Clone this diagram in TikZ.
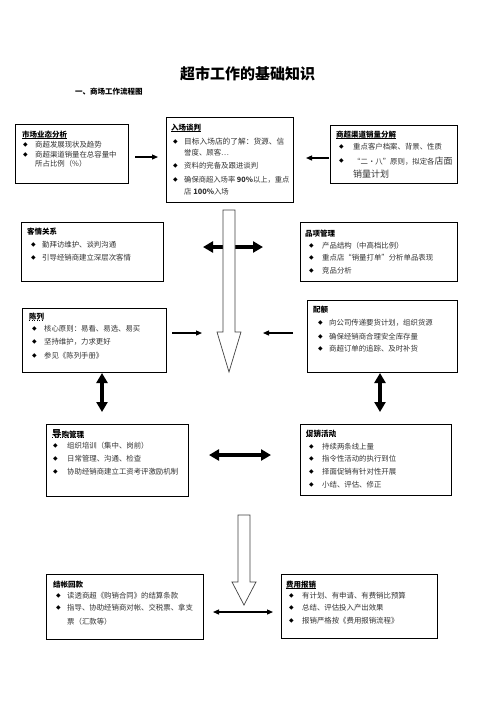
\documentclass[tikz,border=0pt]{standalone}
\usepackage{fontspec}
\setmainfont{Noto Sans CJK SC}
\newfontfamily\symf{DejaVu Sans}
\usetikzlibrary{arrows.meta}
\tikzset{
  box/.style={draw, line width=1pt, fill=white, anchor=north west, inner sep=0},
  hd/.style={anchor=west, inner sep=0, font=\bfseries\fontsize{7.5}{9}\selectfont},
  tx/.style={anchor=west, inner sep=0, font=\fontsize{7.4}{9}\selectfont, text=black!80},
  bul/.style={anchor=west, inner sep=0, font=\symf\fontsize{6}{7}\selectfont},
  ul/.style={line width=0.6pt},
  thinarr/.style={line width=1.2pt, -{Triangle[length=6pt,width=5pt]}},
  thinboth/.style={line width=1.2pt, {Triangle[length=6pt,width=5pt]}-{Triangle[length=6pt,width=5pt]}},
  thickarr/.style={line width=4.5pt, {Triangle[length=10pt,width=11pt]}-{Triangle[length=10pt,width=11pt]}},
  hollow/.style={draw=black!75, line width=0.7pt, fill=white}
}
\begin{document}
\begin{tikzpicture}[x=1pt,y=-1pt]
\useasboundingbox (0,0) rectangle (496,702);
% title
\node[inner sep=0, font=\bfseries\fontsize{15}{18}\selectfont] (title) at (247.5,74) {超市工作的基础知识};
\node[anchor=west, inner sep=0, font=\bfseries\fontsize{7.5}{9}\selectfont] (sub) at (75,92) {一、商场工作流程图};

% ---------- row 1
\node[box, minimum width=113, minimum height=59] (b1) at (15,124) {};
\node[hd] (h1) at (22,135) {市场业态分析};
\draw[ul] ([yshift=1pt]h1.south west) -- ([yshift=1pt]h1.south east);
\node[bul] (p1a) at (23,145) {◆}; \node[tx] (t1a) at (35,145) {商超发展现状及趋势};
\node[bul] (p1b) at (23,155) {◆}; \node[tx] (t1b) at (35,155) {商超渠道销量在总容量中};
\node[tx] (t1c) at (35,164) {所占比例（\%）};

\node[box, minimum width=127, minimum height=85] (b2) at (166,117) {};
\node[hd] (h2) at (171,128) {入场谈判};
\draw[ul] ([yshift=1pt]h2.south west) -- ([yshift=1pt]h2.south east);
\node[bul] (p2a) at (173,142) {◆}; \node[tx, font=\fontsize{7.7}{9}\selectfont] (t2a) at (184,142) {目标入场店的了解：货源、信};
\node[tx] (t2b) at (184,153) {誉度、顾客…};
\node[bul] (p2c) at (173,166) {◆}; \node[tx] (t2c) at (184,166) {资料的完备及跟进谈判};
\node[bul] (p2d) at (173,180) {◆}; \node[tx, font=\fontsize{7.3}{9}\selectfont] (t2d) at (184,180) {确保商超入场率 \textbf{90\%}以上，重点};
\node[tx] (t2e) at (184,192) {店 \textbf{100\%}入场};

\node[box, minimum width=127, minimum height=58] (b3) at (330,125) {};
\node[hd] (h3) at (336,135) {商超渠道销量分解};
\draw[ul] ([yshift=1pt]h3.south west) -- ([yshift=1pt]h3.south east);
\node[bul] (p3a) at (339,147) {◆}; \node[tx] (t3a) at (353,147) {重点客户档案、背景、性质};
\node[bul] (p3b) at (339,161) {◆}; \node[tx] (t3b) at (353,161) {“二•八”原则，拟定各{\fontsize{9}{10}\selectfont 店面}};
\node[tx, font=\fontsize{9}{10}\selectfont] (t3c) at (353,174) {销量计划};

\coordinate (a1s) at (135,157); \coordinate (a1e) at (158,157);
\draw[thinarr] (a1s) -- (a1e);
\coordinate (a2s) at (329,158); \coordinate (a2e) at (306,158);
\draw[thinarr] (a2s) -- (a2e);

% ---------- row 2
\node[box, minimum width=142, minimum height=59] (b4) at (21,222) {};
\node[hd] (h4) at (27,232) {客情关系};
\node[bul] (p4a) at (31,245) {◆}; \node[tx] (t4a) at (42,245) {勤拜访维护、谈判沟通};
\node[bul] (p4b) at (31,258) {◆}; \node[tx] (t4b) at (42,258) {引导经销商建立深层次客情};

\node[box, minimum width=157, minimum height=59] (b5) at (300,222) {};
\node[hd] (h5) at (305,234) {品项管理};
\node[bul] (p5a) at (309,246) {◆}; \node[tx] (t5a) at (322,246) {产品结构（中高档比例）};
\node[bul] (p5b) at (309,258) {◆}; \node[tx] (t5b) at (322,258) {重点店“销量打单”分析单品表现};
\node[bul] (p5c) at (309,271) {◆}; \node[tx] (t5c) at (322,271) {竞品分析};

\coordinate (k1s) at (203,247); \coordinate (k1e) at (263,247);
\draw[thickarr] (k1s) -- (k1e);

% big hollow arrow 1
\draw[hollow] (223,210) -- (235,210) -- (235,332) -- (241,332) -- (229,372) -- (217,332) -- (223,332) -- cycle;

% ---------- row 3
\node[box, minimum width=144, minimum height=64] (b6) at (22,308) {};
\node[hd] (h6) at (29,317) {陈列};
\draw[ul, dotted] ([yshift=1pt]h6.south west) -- ([yshift=1pt]h6.south east);
\node[bul] (p6a) at (32,329) {◆}; \node[tx] (t6a) at (44,329) {核心原则：易看、易选、易买};
\node[bul] (p6b) at (32,342) {◆}; \node[tx] (t6b) at (44,342) {坚持维护，力求更好};
\node[bul] (p6c) at (32,356) {◆}; \node[tx] (t6c) at (44,356) {参见《陈列手册》};

\node[box, minimum width=150, minimum height=72] (b7) at (307,300) {};
\node[hd] (h7) at (313,310) {配额};
\node[bul] (p7a) at (318,323) {◆}; \node[tx] (t7a) at (329,323) {向公司传递要货计划，组织货源};
\node[bul] (p7b) at (318,337) {◆}; \node[tx] (t7b) at (329,337) {确保经销商合理安全库存量};
\node[bul] (p7c) at (318,349) {◆}; \node[tx] (t7c) at (329,349) {商超订单的追踪、及时补货};

\coordinate (a3s) at (172,333); \coordinate (a3e) at (202,333);
\draw[thinarr] (a3s) -- (a3e);
\coordinate (a4s) at (293,333); \coordinate (a4e) at (263,333);
\draw[thinarr] (a4s) -- (a4e);

\coordinate (v1s) at (102,373); \coordinate (v1e) at (102,412);
\draw[thickarr] (v1s) -- (v1e);
\coordinate (v2s) at (380,373); \coordinate (v2e) at (380,412);
\draw[thickarr] (v2s) -- (v2e);

% ---------- row 4
\node[box, minimum width=142, minimum height=72] (b8) at (46,424) {};
\node[hd] (h8) at (52,434) {{\fontsize{9.5}{10}\selectfont 导}购管理};
\draw[ul, dotted] ([yshift=1pt]h8.south west) -- ([yshift=1pt]h8.south east);
\node[bul] (p8a) at (53,446) {◆}; \node[tx] (t8a) at (67,446) {组织培训（集中、岗前）};
\node[bul] (p8b) at (53,459) {◆}; \node[tx] (t8b) at (67,459) {日常管理、沟通、检查};
\node[bul] (p8c) at (53,472) {◆}; \node[tx] (t8c) at (67,472) {协助经销商建立工资考评激励机制};

\node[box, minimum width=151, minimum height=71] (b9) at (300,424) {};
\node[hd] (h9) at (306,434) {促销活动};
\draw[ul, dotted] ([yshift=1pt]h9.south west) -- ([yshift=1pt]h9.south east);
\node[bul] (p9a) at (309,447) {◆}; \node[tx] (t9a) at (322,447) {持续两条线上量};
\node[bul] (p9b) at (309,459) {◆}; \node[tx] (t9b) at (322,459) {指令性活动的执行到位};
\node[bul] (p9c) at (309,472) {◆}; \node[tx] (t9c) at (322,472) {择面促销有针对性开展};
\node[bul] (p9d) at (309,485) {◆}; \node[tx] (t9d) at (322,485) {小结、评估、修正};

\coordinate (k2s) at (209,455); \coordinate (k2e) at (271,455);
\draw[thickarr] (k2s) -- (k2e);

% big hollow arrow 2
\draw[hollow] (238,515) -- (250,515) -- (250,582) -- (256,582) -- (244,605) -- (232,582) -- (238,582) -- cycle;

% ---------- row 5
\node[box, minimum width=157, minimum height=65] (b10) at (46,574) {};
\node[hd] (h10) at (53,585) {结帐回款};
\node[bul] (p10a) at (56,596) {◆}; \node[tx] (t10a) at (67,596) {读透商超《购销合同》的结算条款};
\node[bul] (p10b) at (56,608) {◆}; \node[tx] (t10b) at (67,608) {指导、协助经销商对帐、交税票、拿支};
\node[tx] (t10c) at (67,622) {票（汇款等）};

\node[box, minimum width=156, minimum height=64] (b11) at (281,574) {};
\node[hd] (h11) at (286,585) {费用报销};
\draw[ul] ([yshift=1pt]h11.south west) -- ([yshift=1pt]h11.south east);
\node[bul] (p11a) at (289,596) {◆}; \node[tx] (t11a) at (302,596) {有计划、有申请、有费销比预算};
\node[bul] (p11b) at (289,608) {◆}; \node[tx] (t11b) at (302,608) {总结、评估投入产出效果};
\node[bul] (p11c) at (289,621) {◆}; \node[tx] (t11c) at (302,621) {报销严格按《费用报销流程》};

\coordinate (a5s) at (213,612); \coordinate (a5e) at (273,612);
\draw[thinboth] (a5s) -- (a5e);
\end{tikzpicture}
\end{document}
